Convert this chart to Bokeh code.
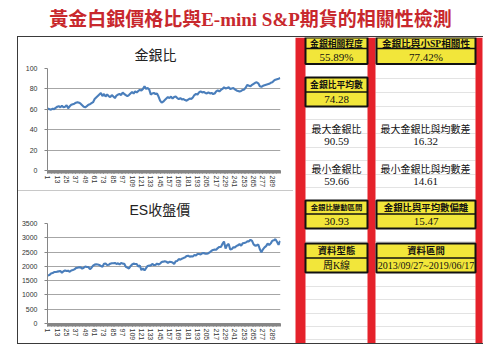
from bokeh.plotting import figure
from bokeh.layouts import column, row
from bokeh.models import Spacer, Range1d, FixedTicker
from bokeh.core.properties import value
from bokeh.embed import file_html
from bokeh.resources import INLINE

# ---------------- data ----------------
weeks = list(range(1, 300, 2))  # week index of each sample (every 2nd week)

gold_silver_ratio = [
    61, 60, 59.7, 60.5, 60.2, 61.5, 62.5, 63, 62, 63.5,
    62, 62.5, 64, 61, 63, 64.5, 65, 65.5, 66.5, 67,
    66.5, 65.5, 64, 62.5, 62, 63, 64.5, 65, 66, 67,
    70, 71.5, 73, 74.5, 76, 73, 75, 72.5, 74.5, 73,
    72, 74, 72.5, 71, 73.5, 74.5, 75, 74, 76.5, 75,
    74, 73, 74, 75.5, 77, 75.5, 77.5, 76.5, 78, 79,
    78.5, 80, 82.5, 80, 81, 79.5, 74.5, 75.5, 76, 75,
    75.5, 72.5, 68.5, 66.5, 67.5, 69, 70.5, 72, 71, 72.5,
    70.5, 72, 72.5, 71, 70, 71, 69.5, 70, 69, 68.5,
    69.5, 70.5, 70, 71.5, 74, 75, 74.5, 76.5, 77.5, 76.5,
    77, 76, 75.5, 76.5, 75.5, 76, 75, 75.5, 77.5, 78.5,
    77.5, 79, 80, 81.5, 80.5, 81, 81.5, 80, 80.5, 81,
    79.5, 78.5, 78, 77.5, 78, 79, 79.5, 81.5, 84, 83,
    82.5, 84, 85, 86, 86.5, 85.5, 82.5, 82, 83, 83.5,
    84, 84.5, 85, 86, 86.5, 88, 89, 89.5, 90, 90.6,
]

es_close = [
    1685, 1695, 1750, 1765, 1800, 1800, 1815, 1825, 1835, 1775,
    1830, 1855, 1835, 1850, 1810, 1855, 1870, 1895, 1940, 1955,
    1970, 1965, 1920, 1950, 1995, 1980, 1975, 1900, 1955, 2025,
    2060, 2070, 2065, 2050, 2010, 1990, 2090, 2100, 2045, 2055,
    2095, 2110, 2110, 2120, 2085, 2105, 2070, 2120, 2095, 2090,
    1985, 1955, 1925, 2005, 2065, 2095, 2085, 2085, 1995, 2030,
    1870, 1930, 1855, 1940, 2015, 2025, 2035, 2085, 2045, 2045,
    2095, 2065, 2095, 2155, 2165, 2180, 2165, 2120, 2160, 2150,
    2135, 2080, 2180, 2190, 2255, 2235, 2270, 2290, 2315, 2365,
    2370, 2340, 2350, 2345, 2395, 2380, 2435, 2430, 2420, 2455,
    2470, 2440, 2440, 2460, 2500, 2545, 2575, 2585, 2580, 2640,
    2680, 2675, 2785, 2870, 2620, 2745, 2785, 2590, 2605, 2670,
    2665, 2715, 2735, 2780, 2725, 2805, 2820, 2835, 2875, 2875,
    2930, 2890, 2770, 2725, 2735, 2765, 2600, 2490, 2595, 2665,
    2710, 2795, 2745, 2805, 2895, 2910, 2950, 2860, 2755, 2890,
]

x_label_ticks = [1, 13, 25, 37, 49, 61, 73, 85, 97, 109, 121, 133, 145,
                 157, 169, 181, 193, 205, 217, 229, 241, 253, 265, 277, 289]
all_week_ticks = list(range(1, 300))
ratio_ticks = [0, 20, 40, 60, 80, 100]
es_ticks = [0, 500, 1000, 1500, 2000, 2500, 3000, 3500]

main_title = "黃金白銀價格比與E-mini S&P期貨的相關性檢測"
chart_titles = ["金銀比", "ES收盤價"]

box_titles = ["金銀相關程度", "金銀比與小SP相關性", "金銀比平均數", "金銀比變動區間",
              "金銀比與平均數偏離", "資料型態", "資料區間"]
box_values = ["55.89%", "77.42%", "74.28", "30.93", "15.47", "周K線",
              "2013/09/27~2019/06/17"]
plain_titles = ["最大金銀比", "最大金銀比與均數差", "最小金銀比", "最小金銀比與均數差"]
plain_values = ["90.59", "16.32", "59.66", "14.61"]

# ---------------- styles / layout ----------------
CJK = value("Liberation Serif, Noto Sans CJK TC")
LINE_BLUE = "#4a7ebb"
GRID = "#a6a6a6"
AXIS = "#868686"
RED = "#e5222b"
YELLOW = "#f2e63a"


def make_chart(title, yvals, yticks, ymax, height, top, bottom, title_offset):
    p = figure(width=275, height=height, x_range=Range1d(0.5, 299.5),
               y_range=Range1d(0, ymax), output_backend="svg",
               toolbar_location=None, min_border_left=25, min_border_right=13,
               min_border_top=top, min_border_bottom=bottom,
               outline_line_color=None, title=title)
    p.title.text_font = "Liberation Sans, Noto Sans CJK TC"
    p.title.text_font_size = "14px"
    p.title.text_font_style = "normal"
    p.title.text_color = "#222222"
    p.title.align = "left"
    p.title.offset = title_offset
    p.title.standoff = 12
    p.line(weeks, yvals, line_color=LINE_BLUE, line_width=2.1)

    p.xaxis.ticker = FixedTicker(ticks=x_label_ticks, minor_ticks=all_week_ticks)
    p.xaxis.major_label_orientation = "vertical"
    p.xaxis.major_tick_in = 0
    p.xaxis.major_tick_out = 3
    p.xaxis.minor_tick_in = 0
    p.xaxis.minor_tick_out = 3
    p.xaxis.major_label_standoff = 2
    p.xaxis.axis_line_color = AXIS
    p.xaxis.major_tick_line_color = AXIS
    p.xaxis.minor_tick_line_color = AXIS

    p.yaxis.ticker = FixedTicker(ticks=yticks)
    p.yaxis.major_tick_in = 0
    p.yaxis.major_tick_out = 3
    p.yaxis.minor_tick_line_color = None
    p.yaxis.major_label_standoff = 7
    p.yaxis.axis_line_color = AXIS
    p.yaxis.major_tick_line_color = AXIS

    for ax in (p.xaxis, p.yaxis):
        ax.major_label_text_font = "Liberation Sans"
        ax.major_label_text_font_size = "7px"
        ax.major_label_text_color = "#333333"

    p.xgrid.visible = False
    p.ygrid.ticker = FixedTicker(ticks=yticks)
    p.ygrid.grid_line_color = GRID
    p.ygrid.grid_line_width = 1
    return p


chart1 = make_chart(chart_titles[0], gold_silver_ratio, ratio_ticks, 100, 153, 31, 17, 87)
chart2 = make_chart(chart_titles[1], es_close, es_ticks, 3500, 152, 32, 18, 82)

# title figure
tf = figure(width=500, height=36, x_range=Range1d(0, 500), y_range=Range1d(36, 0),
            output_backend="svg", toolbar_location=None, min_border=0,
            x_axis_location=None, y_axis_location=None, outline_line_color=None)
tf.grid.visible = False
tf.text(x=[250], y=[19], text=[main_title], text_align="center",
        text_baseline="middle", text_font=CJK, text_font_size="19px",
        text_font_style="bold", text_color="#c8282d")

# right table figure
rf = figure(width=207, height=306, x_range=Range1d(293, 500), y_range=Range1d(343, 37),
            output_backend="svg", toolbar_location=None, min_border=0,
            x_axis_location=None, y_axis_location=None, outline_line_color=None)
rf.grid.visible = False

grid_ys = [50, 64, 78, 92, 106, 119, 133, 147, 160, 174, 187, 200, 214, 228,
           241, 257, 272, 286, 299, 313, 326, 339]
rf.segment(x0=[305] * len(grid_ys), x1=[367] * len(grid_ys), y0=grid_ys, y1=grid_ys,
           line_color="#e3e3e3", line_width=1)
rf.segment(x0=[375] * len(grid_ys), x1=[475] * len(grid_ys), y0=grid_ys, y1=grid_ys,
           line_color="#e3e3e3", line_width=1)

rf.quad(left=[295, 367, 475], right=[305, 375, 482], top=[37] * 3, bottom=[343] * 3,
        fill_color=RED, line_color=None)

# (left, right, top, divider, bottom, header font, value font)
box_geom = [
    (305, 367, 37, 48, 63.5, "8.8px", "11px"),
    (376, 475, 37, 48, 63.5, "9.6px", "11px"),
    (305, 367, 77, 91.5, 106, "8.8px", "11px"),
    (305, 367, 200, 213.5, 228, "7.4px", "11px"),
    (376, 475, 200, 213.5, 228, "9.4px", "11px"),
    (305, 367, 243, 257.5, 272, "9.4px", "10px"),
    (376, 475, 243, 257.5, 272, "9.4px", "10px"),
]
for (l, r, t, d, b, hf, vf), head, val in zip(box_geom, box_titles, box_values):
    rf.quad(left=[l], right=[r], top=[t], bottom=[b], fill_color=YELLOW,
            line_color="#111111", line_width=2)
    rf.segment(x0=[l], x1=[r], y0=[d], y1=[d], line_color="#111111", line_width=1.5)
    rf.text(x=[(l + r) / 2], y=[(t + d) / 2 + 0.5], text=[head], text_align="center",
            text_baseline="middle", text_font=CJK, text_font_size=hf,
            text_font_style="bold", text_color="#111111")
    rf.text(x=[(l + r) / 2], y=[(d + b) / 2 + 0.5], text=[val], text_align="center",
            text_baseline="middle", text_font=CJK, text_font_size=vf,
            text_color="#111111")

plain_pos = [(336, 129, 141), (425, 129, 141), (336, 169, 181), (425, 169, 181)]
for (cx, ty, vy), head, val in zip(plain_pos, plain_titles, plain_values):
    rf.text(x=[cx], y=[ty], text=[head], text_align="center", text_baseline="middle",
            text_font=CJK, text_font_size="10px", text_color="#111111")
    rf.text(x=[cx], y=[vy], text=[val], text_align="center", text_baseline="middle",
            text_font=CJK, text_font_size="11px", text_color="#111111")

FRAME = {"background-color": "#3a3a3a"}
SEP = {"background-color": "#c8c8c8"}

top_line = row(Spacer(width=17, height=1), Spacer(width=466, height=1, styles=FRAME))
bottom_line = row(Spacer(width=17, height=1), Spacer(width=466, height=1, styles=FRAME))
middle = row(
    Spacer(width=17, height=306),
    Spacer(width=1, height=306, styles=FRAME),
    column(chart1, Spacer(width=275, height=1, styles=SEP), chart2),
    rf,
)
layout = column(tf, top_line, middle, bottom_line)

open("out.html", "w").write(file_html(layout, INLINE))
